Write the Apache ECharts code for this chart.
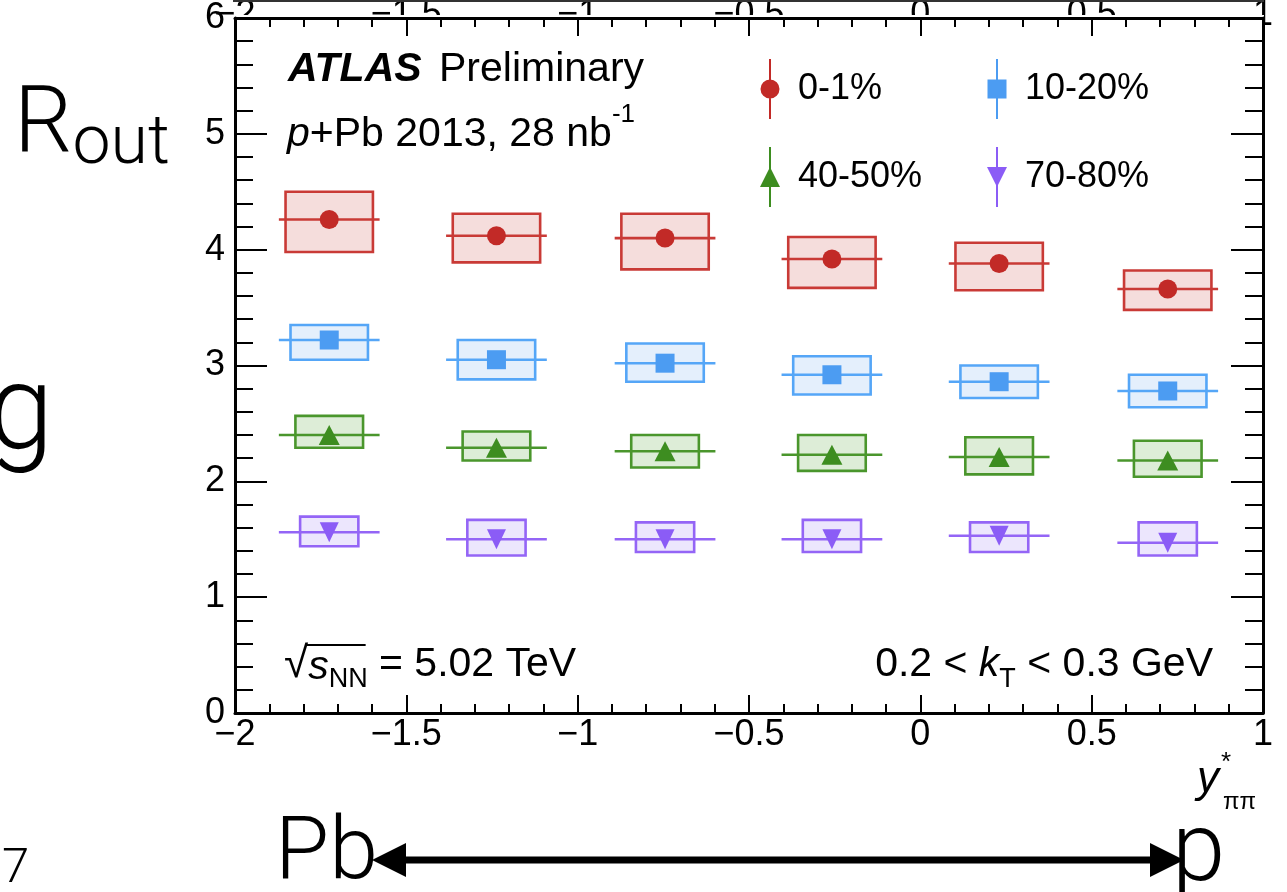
<!DOCTYPE html>
<html><head><meta charset="utf-8">
<script src="https://cdn.jsdelivr.net/npm/echarts@6/dist/echarts.min.js"></script>
<style>html,body{margin:0;padding:0;background:#fff;overflow:hidden}#c{width:1287px;height:892px}</style>
</head><body><div id="c"></div>
<script>
// ---------------- data ----------------
const xTickLabels = [-2, -1.5, -1, -0.5, 0, 0.5, 1];
const yTickLabels = [0, 1, 2, 3, 4, 5, 6];
const seriesNames = ['0-1%', '10-20%', '40-50%', '70-80%'];
const yStar = [-1.725, -1.237, -0.745, -0.258, 0.230, 0.722];
const yStarErr = [0.147, 0.147, 0.147, 0.147, 0.147, 0.147];

const r0_1   = [4.26, 4.12, 4.10, 3.92, 3.88, 3.66];
const r0_1Hi = [4.50, 4.31, 4.31, 4.11, 4.06, 3.82];
const r0_1Lo = [3.98, 3.89, 3.83, 3.67, 3.65, 3.48];

const r10_20   = [3.22, 3.05, 3.02, 2.92, 2.86, 2.78];
const r10_20Hi = [3.35, 3.22, 3.19, 3.08, 3.00, 2.92];
const r10_20Lo = [3.05, 2.88, 2.86, 2.75, 2.72, 2.64];

const r40_50   = [2.40, 2.29, 2.26, 2.23, 2.21, 2.18];
const r40_50Hi = [2.565, 2.43, 2.40, 2.40, 2.38, 2.35];
const r40_50Lo = [2.29, 2.18, 2.12, 2.09, 2.06, 2.04];

const r70_80   = [1.56, 1.50, 1.50, 1.50, 1.53, 1.47];
const r70_80Hi = [1.695, 1.667, 1.646, 1.667, 1.646, 1.646];
const r70_80Lo = [1.44, 1.36, 1.39, 1.39, 1.39, 1.36];

// ---------------- styles ----------------
const F = '"Liberation Sans", Arial, Helvetica, sans-serif';
const SLIDE = 'Roboto, "Open Sans", Lato, sans-serif';
const styles = [
  {marker:'#c22a27', stroke:'#c93a36', fill:'rgba(215,120,115,0.25)', sym:'circle', size:19, rot:0, boxHalf:0.1275,
   icon:'path://M9,0 L11,0 L11,60 L9,60 Z M0.5,30 A9.5,9.5 0 1 1 19.5,30 A9.5,9.5 0 1 1 0.5,30 Z'},
  {marker:'#4c9cf2', stroke:'#55a6f7', fill:'rgba(120,175,240,0.20)', sym:'rect', size:19, rot:0, boxHalf:0.113,
   icon:'path://M9,0 L11,0 L11,60 L9,60 Z M0.5,20.5 L19.5,20.5 L19.5,39.5 L0.5,39.5 Z'},
  {marker:'#3d8d20', stroke:'#4a962c', fill:'rgba(120,185,95,0.25)', sym:'triangle', size:[21,20], rot:0, boxHalf:0.0987,
   icon:'path://M9,0 L11,0 L11,60 L9,60 Z M0,40 L10,20 L20,40 Z'},
  {marker:'#8b5cf6', stroke:'#9465f6', fill:'rgba(170,140,245,0.22)', sym:'triangle', size:[19,20], rot:180, boxHalf:0.085,
   icon:'path://M9,0 L11,0 L11,60 L9,60 Z M0,20 L20,20 L10,40 Z'}
];
const vals = [r0_1, r10_20, r40_50, r70_80];
const his = [r0_1Hi, r10_20Hi, r40_50Hi, r70_80Hi];
const los = [r0_1Lo, r10_20Lo, r40_50Lo, r70_80Lo];

// ---------------- series ----------------
const series = [];
seriesNames.forEach((name, k) => {
  const st = styles[k];
  series.push({
    type: 'custom', name: name + ' sys', silent: true, z: 2,
    data: yStar.map((x, i) => [x, los[k][i], his[k][i]]),
    renderItem(params, api) {
      const p1 = api.coord([api.value(0) - st.boxHalf, api.value(2)]);
      const p2 = api.coord([api.value(0) + st.boxHalf, api.value(1)]);
      return {type: 'rect', shape: {x: p1[0], y: p1[1], width: p2[0] - p1[0], height: p2[1] - p1[1]},
              style: {fill: st.fill, stroke: st.stroke, lineWidth: 2.6}};
    }
  });
  series.push({
    type: 'custom', name: name + ' err', silent: true, z: 3,
    data: yStar.map((x, i) => [x, vals[k][i], yStarErr[i]]),
    renderItem(params, api) {
      const a = api.coord([api.value(0) - api.value(2), api.value(1)]);
      const b = api.coord([api.value(0) + api.value(2), api.value(1)]);
      return {type: 'line', shape: {x1: a[0], y1: a[1], x2: b[0], y2: b[1]},
              style: {stroke: st.stroke, lineWidth: 2.6}};
    }
  });
  series.push({
    type: 'scatter', name: name, z: 5, silent: true,
    symbol: st.sym, symbolSize: st.size, symbolRotate: st.rot,
    itemStyle: {color: st.marker, opacity: 1},
    data: yStar.map((x, i) => [x, vals[k][i]])
  });
});

const minus = v => String(v).replace('-', '\u2212');
const tickStyle = {color: '#000', width: 2};
function xAx(pos, showLabel) {
  return {type: 'value', min: -2, max: 1, interval: 0.5, position: pos,
    axisLine: {show: true, onZero: false, lineStyle: {color: '#000', width: 3}},
    axisTick: {show: true, inside: true, length: 18, lineStyle: tickStyle},
    minorTick: {show: true, splitNumber: 5, length: 9, lineStyle: tickStyle},
    splitLine: {show: false}, minorSplitLine: {show: false},
    axisLabel: {show: showLabel, fontSize: 36, fontFamily: F, color: '#000', margin: 4,
      showMinLabel: true, showMaxLabel: true, hideOverlap: false,
      formatter: v => minus(xTickLabels.find(t => Math.abs(t - v) < 1e-9))}};
}
function yAx(pos, showLabel) {
  return {type: 'value', min: 0, max: 6, interval: 1, position: pos,
    axisLine: {show: true, onZero: false, lineStyle: {color: '#000', width: 3}},
    axisTick: {show: true, inside: true, length: 32, lineStyle: tickStyle},
    minorTick: {show: true, splitNumber: 5, length: 18, lineStyle: tickStyle},
    splitLine: {show: false}, minorSplitLine: {show: false},
    axisLabel: {show: showLabel, fontSize: 36, fontFamily: F, color: '#000', margin: 10,
      showMinLabel: true, showMaxLabel: true, hideOverlap: false,
      formatter: v => String(yTickLabels.find(t => Math.abs(t - v) < 1e-9))}};
}

const legendText = {fontSize: 36, fontFamily: F, color: '#000'};
const chart = echarts.init(document.getElementById('c'));
chart.setOption({
  backgroundColor: '#fff',
  animation: false,
  grid: {left: 235, top: 16, right: 24, bottom: 179, containLabel: false},
  xAxis: [xAx('bottom', true), xAx('top', false)],
  yAxis: [yAx('left', true), yAx('right', false)],
  legend: [
    {orient: 'vertical', left: 755, top: 54, itemWidth: 46, itemHeight: 60, itemGap: 28, selectedMode: false,
     textStyle: legendText, data: [0, 2].map(k => ({name: seriesNames[k], icon: styles[k].icon}))},
    {orient: 'vertical', left: 982, top: 54, itemWidth: 46, itemHeight: 60, itemGap: 28, selectedMode: false,
     textStyle: legendText, data: [1, 3].map(k => ({name: seriesNames[k], icon: styles[k].icon}))}
  ],
  series: series
});

// ---------------- annotations ----------------
const ctx = document.createElement('canvas').getContext('2d');
function fontStr(r) { return (r.style || 'normal') + ' ' + (r.weight || 'normal') + ' ' + r.size + 'px ' + (r.family || F); }
function measure(r) { ctx.font = fontStr(r); return ctx.measureText(r.text).width; }
function runs(x, y, list, align) {
  const total = list.reduce((s, r) => s + (r.noAdvance ? 0 : measure(r)) + (r.gap || 0), 0);
  let cx = align === 'right' ? x - total : x;
  const els = [];
  list.forEach(r => {
    els.push({type: 'text', x: cx + (r.dx || 0), y: y + (r.dy || 0), silent: true, z: 10,
      style: {text: r.text, fontSize: r.size, fontFamily: r.family || F, fontStyle: r.style || 'normal',
        fontWeight: r.weight || 'normal', fill: r.color || '#000',
        align: 'left', verticalAlign: 'middle', textAlign: 'left', textVerticalAlign: 'middle'}});
    r._x = cx;
    if (!r.noAdvance) cx += measure(r) + (r.gap || 0);
  });
  els.end = cx;
  return els;
}

const g = [];
// remnants of the plot above (its axis line and tick label tops)
g.push({type: 'rect', z: -1, silent: true, shape: {x: 233, y: 0, width: 1031, height: 2}, style: {fill: '#333'}});
xTickLabels.forEach(t => {
  const px = chart.convertToPixel({xAxisIndex: 0}, t);
  g.push({type: 'text', z: -3, silent: true, x: px, y: -3,
    style: {text: minus(t), fontSize: 36, fontFamily: F, fill: '#000', align: 'center', verticalAlign: 'top', textAlign: 'center', textVerticalAlign: 'top'}});
});
g.push({type: 'rect', z: -2, silent: true, shape: {x: 200, y: 15, width: 1064, height: 700}, style: {fill: '#fff'}});

// ATLAS label
g.push(...runs(288, 70, [
  {text: 'ATLAS', size: 41, style: 'italic', weight: 'bold', gap: 6},
  {text: ' Preliminary', size: 41}
]));
const pPb = [
  {text: 'p', size: 41, style: 'italic'},
  {text: '+Pb 2013, 28 nb', size: 41},
  {text: '-1', size: 26, dy: -20}
];
g.push(...runs(287, 135, pPb));

// sqrt(s_NN)
const sq = [
  {text: '\u221A', size: 44, dy: 0},
  {text: 's', size: 41, style: 'italic', dy: 3},
  {text: 'NN', size: 27, dy: 15},
  {text: ' = 5.02 TeV', size: 41}
];
g.push(...runs(284, 665, sq));
g.push({type: 'line', silent: true, z: 10, shape: {x1: sq[1]._x - 2, y1: 645, x2: sq[3]._x - 2, y2: 645}, style: {stroke: '#000', lineWidth: 2}});

// kT range
g.push(...runs(1213, 665, [
  {text: '0.2 < ', size: 41},
  {text: 'k', size: 41, style: 'italic'},
  {text: 'T', size: 27, dy: 15},
  {text: ' < 0.3 GeV', size: 41}
], 'right'));

// axis title y*_pipi
const ylEls = runs(1197, 780, [{text: 'y', size: 44, style: 'italic'}]);
g.push(...ylEls);
g.push({type: 'text', silent: true, z: 10, x: ylEls.end + 2, y: 763, style: {text: '*', fontSize: 26, fontFamily: F, fill: '#000', align: 'left', verticalAlign: 'middle', textAlign: 'left', textVerticalAlign: 'middle'}});
g.push({type: 'text', silent: true, z: 10, x: ylEls.end + 4, y: 802, style: {text: '\u03C0\u03C0', fontSize: 24, fontFamily: F, fill: '#000', align: 'left', verticalAlign: 'middle', textAlign: 'left', textVerticalAlign: 'middle'}});

// slide texts
g.push(...runs(14, 129, [
  {text: 'R', size: 92, family: SLIDE, weight: 300},
  {text: 'out', size: 68, family: SLIDE, weight: 300, dy: 17}
]));
g.push(...runs(-12, 418, [{text: 'g', size: 118, family: SLIDE, weight: 300}]));
g.push(...runs(2, 870, [{text: '7', size: 49, family: SLIDE, weight: 300}]));
g.push(...runs(275, 856, [{text: 'Pb', size: 88, family: SLIDE, weight: 300}]));
g.push(...runs(1172, 856, [{text: 'p', size: 96, family: SLIDE, weight: 300}]));

// double arrow
g.push({type: 'rect', silent: true, z: 10, shape: {x: 400, y: 856.5, width: 756, height: 7}, style: {fill: '#000'}});
g.push({type: 'polygon', silent: true, z: 10, shape: {points: [[372, 860], [406, 843], [406, 877]]}, style: {fill: '#000'}});
g.push({type: 'polygon', silent: true, z: 10, shape: {points: [[1184, 860], [1150, 843], [1150, 877]]}, style: {fill: '#000'}});

chart.setOption({graphic: g});
</script>
</body></html>
